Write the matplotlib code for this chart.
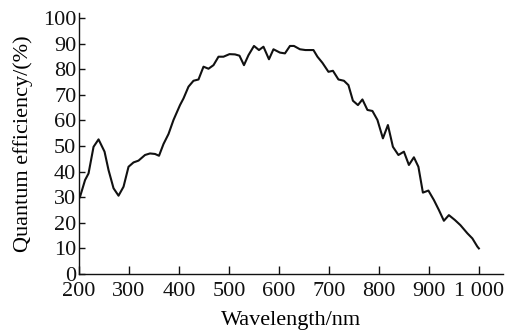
import matplotlib
matplotlib.use("Agg")
import matplotlib.pyplot as plt
from matplotlib.ticker import FuncFormatter

# Quantum efficiency curve (wavelength in nm, QE in %)
wavelength = [200, 202, 212, 219, 229, 239, 251, 259, 269, 279, 289, 299,
              309, 319, 332, 342, 352, 360, 369, 379, 389, 402, 409, 419,
              429, 439, 449, 459, 469, 479, 489, 501, 512, 521, 530, 539,
              550, 560, 569, 580, 589, 602, 612, 622, 630, 642, 653, 669,
              677, 687, 699, 708, 719, 730, 739, 748, 758, 767, 777, 787,
              797, 808, 818, 828, 839, 850, 860, 870, 879, 888, 899, 910,
              920, 930, 940, 952, 963, 977, 987, 997, 1000]
efficiency = [29.5, 30.2, 36.7, 39.3, 49.7, 52.6, 47.8, 40.6, 33.5, 30.6, 34.1, 41.9,
              43.6, 44.3, 46.5, 47.1, 46.9, 46.2, 50.8, 54.7, 60.2, 66.0, 68.6, 73.2,
              75.5, 76.0, 81.0, 80.2, 81.6, 84.9, 84.9, 85.9, 85.8, 85.3, 81.6, 85.5,
              89.1, 87.5, 88.8, 83.9, 87.8, 86.5, 86.2, 89.1, 89.1, 87.8, 87.5, 87.5,
              84.9, 82.5, 79.0, 79.4, 76.0, 75.5, 73.8, 67.7, 66.0, 68.2, 64.1, 63.7,
              60.2, 53.0, 58.2, 49.7, 46.5, 47.8, 42.6, 45.6, 41.9, 31.8, 32.6, 28.9,
              25.0, 20.8, 23.0, 21.1, 19.1, 15.9, 13.9, 10.7, 10.0]

x_ticks = [200, 300, 400, 500, 600, 700, 800, 900, 1000]
y_ticks = list(range(0, 101, 10))

plt.rcParams["font.family"] = ["Liberation Serif", "DejaVu Serif"]
plt.rcParams["font.size"] = 16

fig = plt.figure(figsize=(5.1, 3.36), dpi=100)
ax = fig.add_axes([0.155, 0.1845, 0.831, 0.777])

ax.plot(wavelength, efficiency, color="#111111", linewidth=1.5)

ax.set_xlim(200, 1048)
ax.set_ylim(0, 102)
ax.set_xticks(x_ticks)
ax.set_yticks(y_ticks)

# space as thousands separator: "1 000"
ax.xaxis.set_major_formatter(FuncFormatter(
    lambda v, pos: f"{int(v):,}".replace(",", " ")))

ax.spines["top"].set_visible(False)
ax.spines["right"].set_visible(False)
for s in ("left", "bottom"):
    ax.spines[s].set_linewidth(1.0)
    ax.spines[s].set_color("#111111")

ax.tick_params(axis="x", direction="in", length=6, width=1.0, pad=6,
               colors="#111111")
ax.tick_params(axis="y", direction="in", length=4, width=1.0, pad=2,
               colors="#111111")

ax.set_xlabel("Wavelength/nm", labelpad=7)
ax.set_ylabel("Quantum efficiency/(%)", labelpad=7)

fig.savefig("out.png", dpi=100)
